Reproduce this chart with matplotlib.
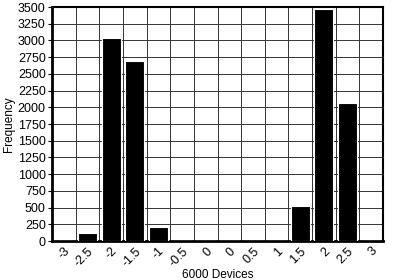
import matplotlib
matplotlib.use("Agg")
import matplotlib.pyplot as plt
import numpy as np
from matplotlib.ticker import FixedLocator

plt.rcParams['font.family'] = ['Liberation Sans', 'DejaVu Sans']

categories = ["-3", "-2.5", "-2", "-1.5", "-1", "-0.5", "0", "0", "0.5", "1", "1.5", "2", "2.5", "3"]
counts = [0, 120, 3040, 2690, 212, 0, 0, 0, 0, 0, 522, 3465, 2058, 0]
y_ticks = list(range(0, 3501, 250))

fig = plt.figure(figsize=(4, 2.8), dpi=100)
ax = fig.add_axes([0.13, 0.139, 0.8275, 0.836])

x = np.arange(len(categories))
ax.bar(x, counts, width=0.8, color='black', edgecolor='white', linewidth=0.8, zorder=3)

ax.set_xlim(-0.5, len(categories) - 0.5)
ax.set_ylim(0, 3500)
ax.set_yticks(y_ticks)
ax.set_yticklabels([str(v) for v in y_ticks], fontsize=9)
ax.set_xticks(x)
ax.set_xticklabels(categories, fontsize=9, rotation=45, ha='right', rotation_mode='anchor')
ax.xaxis.set_minor_locator(FixedLocator(np.arange(0.5, len(categories) - 0.5, 1.0)))

ax.grid(True, axis='y', which='major', color='#333333', linewidth=0.7, zorder=1)
ax.grid(True, axis='x', which='minor', color='#333333', linewidth=0.7, zorder=1)
ax.set_axisbelow(True)

ax.tick_params(axis='x', which='both', length=0, pad=3)
ax.tick_params(axis='y', length=3, width=0.8, pad=1.5)

for side in ['left', 'bottom']:
    ax.spines[side].set_linewidth(2.0)
for side in ['top', 'right']:
    ax.spines[side].set_linewidth(1.5)

ax.set_xlabel("6000 Devices", fontsize=8.5, labelpad=0)
ax.set_ylabel("Frequency", fontsize=8.5, labelpad=2)

fig.savefig("out.png", dpi=100)
